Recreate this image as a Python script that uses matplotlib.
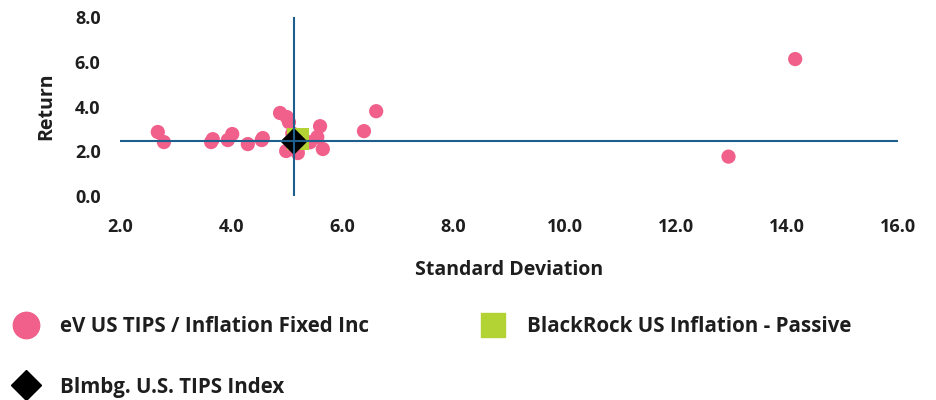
import matplotlib
matplotlib.use("Agg")
import matplotlib.pyplot as plt
from matplotlib.lines import Line2D

# Data
peer_sd = [2.68, 2.79, 3.64, 3.67, 3.94, 4.02, 4.30, 4.55, 4.57, 4.88, 5.00, 5.04,
           4.99, 5.20, 5.60, 5.55, 5.65, 5.42, 5.10, 5.25, 6.39, 6.61, 12.95, 14.15]
peer_ret = [2.86, 2.41, 2.41, 2.54, 2.50, 2.77, 2.32, 2.50, 2.59, 3.71, 3.53, 3.30,
            2.01, 1.92, 3.12, 2.63, 2.10, 2.40, 2.80, 2.30, 2.90, 3.79, 1.76, 6.12]
fund_sd = [5.20]
fund_ret = [2.54]
index_sd = [5.13]
index_ret = [2.44]
xticks = [2, 4, 6, 8, 10, 12, 14, 16]
yticks = [0, 2, 4, 6, 8]
labels = ["eV US TIPS / Inflation Fixed Inc", "BlackRock US Inflation - Passive",
          "Blmbg. U.S. TIPS Index"]

PINK = "#f0608b"
GREEN = "#b3d334"
LINE = "#1d5e8c"
TXT = "#1e1e1e"
FONT = "Open Sans"

fig = plt.figure(figsize=(9.36, 4.0), dpi=100)
ax = fig.add_axes([120/936, 1-196/400, (898-120)/936, (196-17)/400])
ax.set_xlim(2, 16)
ax.set_ylim(0, 8)

ax.scatter(peer_sd, peer_ret, s=105, color=PINK, edgecolors="none", zorder=3)
ax.scatter(fund_sd, fund_ret, s=250, marker="s", color=GREEN, edgecolors="none", zorder=5)
ax.scatter(index_sd, index_ret, s=190, marker="D", color="black", edgecolors="none", zorder=6)
ax.axhline(2.47, color=LINE, lw=1.5, zorder=7)
ax.axvline(index_sd[0], color=LINE, lw=1.5, zorder=7)

for s in ax.spines.values():
    s.set_visible(False)
ax.set_xticks(xticks)
ax.set_xticklabels([f"{v:.1f}" for v in xticks])
ax.set_yticks(yticks)
ax.set_yticklabels([f"{v:.1f}" for v in yticks])
ax.tick_params(length=0, labelsize=13, colors=TXT)
ax.tick_params(axis="x", pad=16)
ax.tick_params(axis="y", pad=14)
for lab in ax.get_xticklabels() + ax.get_yticklabels():
    lab.set_fontweight("bold")
    lab.set_fontfamily(FONT)
ax.set_xlabel("Standard Deviation", fontsize=14, fontweight="bold", color=TXT,
              family=FONT, labelpad=17)
ax.set_ylabel("Return", fontsize=14, fontweight="bold", color=TXT,
              family=FONT, labelpad=13)

# Legend (manual)
def leg(xm, ym, marker, color, ms, text):
    fig.add_artist(Line2D([xm/936], [1-ym/400], transform=fig.transFigure,
                          marker=marker, color=color, markersize=ms, linestyle="none"))
    fig.text((xm+34)/936, 1-(ym+2)/400, text, fontsize=14.8, fontweight="bold",
             color=TXT, family=FONT, va="center", ha="left")

leg(26, 325, "o", PINK, 19, labels[0])
leg(493, 325, "s", GREEN, 17, labels[1])
leg(26, 385, "D", "black", 15, labels[2])

fig.savefig("out.png", dpi=100)
